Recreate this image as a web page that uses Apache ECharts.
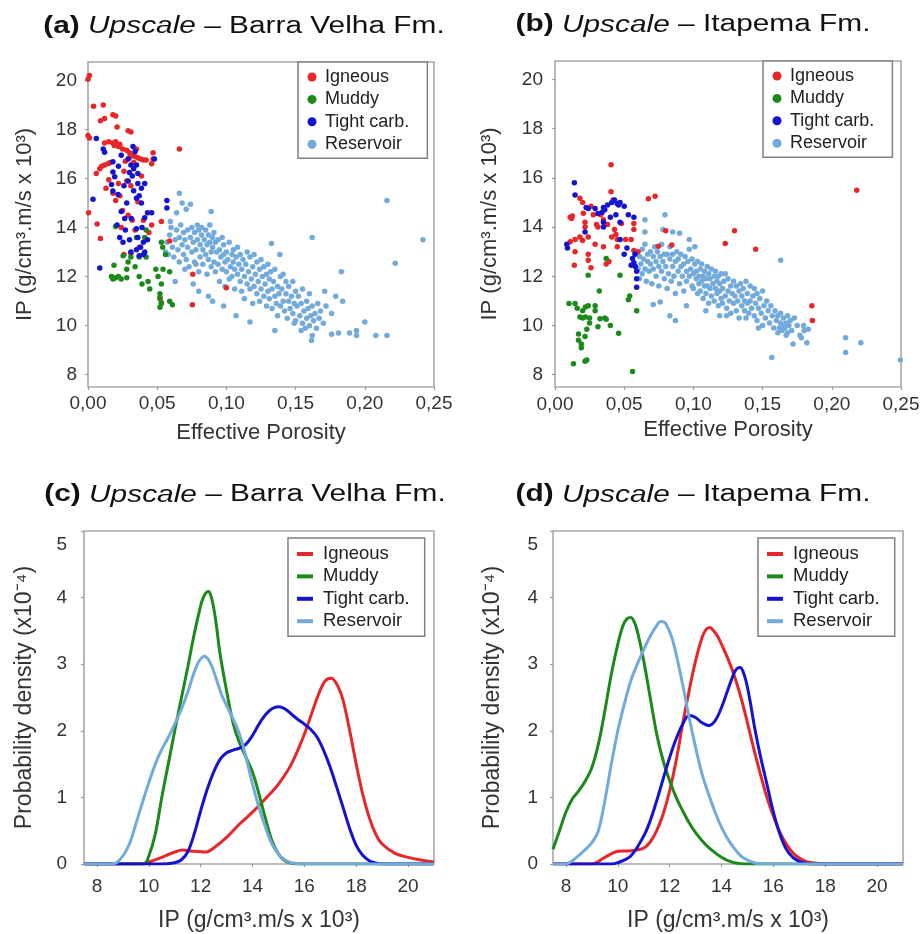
<!DOCTYPE html>
<html>
<head>
<meta charset="utf-8">
<script src="https://cdn.jsdelivr.net/npm/echarts@6/dist/echarts.min.js"></script>
<style>
html,body{margin:0;padding:0;background:#fff;}
#chart{width:923px;height:934px;}
</style>
</head>
<body>
<div id="chart"></div>
<script>
// ---------- labels & ticks ----------
const seriesNames = ['Igneous', 'Muddy', 'Tight carb.', 'Reservoir'];
const porosityTicks = [0, 0.05, 0.10, 0.15, 0.20, 0.25];
const ipTicks = [8, 10, 12, 14, 16, 18, 20];
const densityTicks = [0, 1, 2, 3, 4, 5];
const titleA = '(a)', titleB = '(b)', titleC = '(c)', titleD = '(d)';
const fmBarra = ' – Barra Velha Fm.', fmItapema = ' – Itapema Fm.';
const ipName = 'IP (g/cm³.m/s x 10³)';
const porName = 'Effective Porosity';
const densName = 'Probability density (x10⁻⁴)';

// ---------- (a) scatter, Barra Velha: [porosity, IP] ----------
const scatA_igneous = [[0.001,20.2],[0.0,20.05],[0.0,17.75],[0.001,17.65],[0.004,18.95],[0.011,19.0],[0.009,18.35],[0.012,18.45],[0.018,18.6],[0.020,18.55],[0.021,18.1],[0.029,17.95],[0.031,17.9],[0.012,17.45],[0.015,17.5],[0.018,17.45],[0.020,17.5],[0.022,17.3],[0.019,17.35],[0.023,17.4],[0.025,17.2],[0.028,17.15],[0.030,17.05],[0.032,16.95],[0.034,16.9],[0.036,16.85],[0.038,16.8],[0.040,16.75],[0.042,16.75],[0.030,16.85],[0.027,16.7],[0.033,16.65],[0.047,17.05],[0.047,16.8],[0.046,16.6],[0.066,17.2],[0.006,16.2],[0.0085,16.4],[0.010,16.5],[0.012,16.55],[0.0145,16.6],[0.016,16.65],[0.015,15.95],[0.013,15.6],[0.018,15.4],[0.022,15.8],[0.023,15.3],[0.028,15.9],[0.031,15.7],[0.0386,16.1],[0.0004,14.6],[0.0066,14.15],[0.009,13.55],[0.025,14.7],[0.029,14.5],[0.032,14.3],[0.036,15.05],[0.053,14.25],[0.059,13.45],[0.0757,12.1],[0.0754,10.85],[0.100,11.55],[0.052,11.15],[0.053,10.95],[0.020,15.1],[0.026,16.3],[0.035,17.2],[0.024,14.0],[0.040,14.3],[0.044,13.8],[0.026,12.9],[0.046,14.1],[0.034,13.9],[0.037,13.2],[0.031,12.95]];
const scatA_muddy = [[0.0199,14.04],[0.0188,12.46],[0.017,12.0],[0.018,11.9],[0.020,11.95],[0.022,12.0],[0.024,11.9],[0.028,11.95],[0.0254,12.85],[0.029,12.6],[0.031,12.8],[0.028,12.3],[0.034,12.4],[0.035,13.6],[0.041,13.6],[0.042,13.9],[0.037,12.8],[0.042,12.8],[0.037,12.0],[0.0434,11.8],[0.0446,11.5],[0.0506,12.0],[0.0542,12.3],[0.053,11.7],[0.052,11.3],[0.052,11.1],[0.053,10.9],[0.053,13.4],[0.054,13.2],[0.056,12.9],[0.059,12.2],[0.059,11.0],[0.061,10.85],[0.039,11.7],[0.049,12.3],[0.052,10.75]];
const scatA_tight = [[0.006,17.63],[0.011,17.2],[0.012,17.07],[0.018,16.68],[0.024,16.95],[0.0325,17.3],[0.034,17.1],[0.029,16.8],[0.031,16.55],[0.033,16.4],[0.030,16.25],[0.032,16.1],[0.035,16.55],[0.048,16.8],[0.018,16.27],[0.0193,16.07],[0.017,15.76],[0.018,15.49],[0.0217,15.35],[0.029,15.9],[0.036,15.8],[0.0386,15.6],[0.035,15.2],[0.037,15.3],[0.0386,15.0],[0.041,15.8],[0.0036,15.15],[0.024,14.65],[0.0265,14.37],[0.0313,14.37],[0.043,14.6],[0.046,14.6],[0.041,14.4],[0.057,15.1],[0.057,14.8],[0.035,13.95],[0.0229,13.6],[0.0253,13.4],[0.030,13.5],[0.031,13.0],[0.035,13.1],[0.038,13.2],[0.040,12.9],[0.037,12.85],[0.041,13.0],[0.0085,12.35],[0.036,13.6],[0.040,13.4],[0.028,15.0],[0.033,15.5],[0.026,15.7],[0.022,16.5],[0.036,16.2],[0.027,13.9],[0.043,13.5],[0.039,14.0],[0.021,14.1]];
const scatA_reservoir = [[0.066,15.4],[0.068,15.0],[0.071,14.75],[0.074,14.95],[0.089,14.65],[0.0595,14.25],[0.064,14.6],[0.216,15.1],[0.242,13.5],[0.222,12.55],[0.162,13.6],[0.183,12.2],[0.1326,13.35],[0.1386,12.9],[0.200,10.15],[0.208,9.6],[0.216,9.6],[0.194,9.8],[0.194,9.6],[0.189,9.7],[0.181,9.7],[0.176,9.65],[0.1615,9.4],[0.176,10.5],[0.184,11.0],[0.179,11.2],[0.171,11.4],[0.154,9.8],[0.149,10.1],[0.135,9.8],[0.117,10.15],[0.107,10.4],[0.098,10.8],[0.087,11.2],[0.080,11.4],[0.078,12.5],[0.070,12.3],[0.063,11.8],[0.076,11.7],[0.090,11.0],
[0.056,13.0],[0.057,13.4],[0.058,12.9],[0.059,13.7],[0.060,14.0],[0.061,13.2],[0.062,12.8],[0.063,13.5],[0.064,13.9],[0.065,13.1],[0.066,12.6],[0.066,13.6],[0.067,14.1],[0.068,13.3],[0.069,12.9],[0.069,13.8],
[0.070,13.5],[0.071,12.7],[0.072,13.9],[0.072,13.2],[0.073,12.4],[0.074,13.6],[0.075,14.0],[0.075,13.0],[0.076,13.4],[0.077,12.6],[0.077,13.8],[0.078,13.1],[0.079,14.1],[0.079,13.5],[0.080,12.2],[0.080,13.9],[0.081,13.3],[0.081,12.8],[0.082,13.7],[0.082,14.0],[0.083,13.1],[0.083,12.5],[0.084,13.5],[0.085,13.9],[0.085,12.9],[0.086,13.3],[0.086,12.1],[0.087,13.7],[0.087,12.7],[0.088,13.4],[0.088,14.1],[0.089,13.0],[0.089,12.4],[0.090,13.6],
[0.090,13.2],[0.091,12.6],[0.091,13.8],[0.092,13.4],[0.092,12.2],[0.093,13.0],[0.094,13.5],[0.094,12.5],[0.095,11.8],[0.095,13.1],[0.096,12.8],[0.097,13.6],[0.097,12.3],[0.098,12.9],[0.098,13.3],[0.099,11.6],[0.099,12.6],[0.100,13.0],[0.100,12.2],[0.101,12.7],[0.102,13.4],[0.102,11.9],[0.103,12.4],[0.104,12.9],[0.104,12.0],[0.105,13.1],[0.105,12.6],[0.106,11.5],[0.106,12.3],[0.107,12.8],[0.108,12.1],[0.108,13.2],[0.109,12.5],[0.110,11.8],[0.110,12.9],
[0.111,12.3],[0.111,11.4],[0.112,12.7],[0.113,12.0],[0.113,11.1],[0.114,12.5],[0.115,11.7],[0.115,13.0],[0.116,12.2],[0.117,11.5],[0.117,12.8],[0.118,11.9],[0.119,12.4],[0.119,10.9],[0.120,11.6],[0.120,12.9],[0.121,12.1],[0.122,11.3],[0.122,12.6],[0.123,11.8],[0.124,12.3],[0.124,11.0],[0.125,11.5],[0.125,12.7],[0.126,12.0],[0.127,11.2],[0.127,12.4],[0.128,11.7],[0.129,12.1],[0.129,10.8],[0.130,11.4],[0.130,12.5],
[0.131,11.9],[0.131,11.1],[0.132,12.2],[0.133,11.5],[0.133,10.7],[0.134,11.8],[0.135,11.2],[0.135,12.3],[0.136,10.9],[0.137,11.6],[0.137,10.4],[0.138,11.3],[0.139,12.0],[0.139,10.8],[0.140,11.5],[0.141,11.0],[0.141,12.1],[0.142,10.6],[0.143,11.3],[0.143,11.8],[0.144,10.3],[0.145,11.0],[0.145,11.6],[0.146,10.7],[0.147,11.2],[0.148,10.5],[0.148,11.8],[0.149,10.9],[0.150,11.4],[0.150,10.2],
[0.151,10.8],[0.152,11.2],[0.153,10.4],[0.154,10.9],[0.155,10.1],[0.155,11.5],[0.156,10.6],[0.157,9.9],[0.158,11.0],[0.158,10.3],[0.159,10.7],[0.160,10.0],[0.160,11.3],[0.161,10.4],[0.162,9.6],[0.162,10.8],[0.163,10.2],[0.164,10.5],[0.165,9.9],[0.166,10.9],[0.167,10.3],[0.168,10.6],[0.170,10.1],[0.172,10.8]];

// ---------- (b) scatter, Itapema ----------
const scatB_igneous = [[0.0405,16.53],[0.0405,15.44],[0.042,15.1],[0.018,15.17],[0.011,14.4],[0.012,14.35],[0.0125,14.45],[0.0205,14.56],[0.0217,14.2],[0.0217,14.0],[0.0277,14.5],[0.030,14.1],[0.035,14.3],[0.038,14.1],[0.048,14.15],[0.057,14.15],[0.057,13.9],[0.0675,15.15],[0.0723,15.25],[0.018,13.6],[0.0145,13.5],[0.020,13.45],[0.024,13.6],[0.0145,13.0],[0.014,12.45],[0.024,12.9],[0.024,12.65],[0.026,12.35],[0.029,13.3],[0.035,13.2],[0.037,12.5],[0.043,13.9],[0.044,13.7],[0.045,13.5],[0.045,13.2],[0.051,13.5],[0.055,13.5],[0.041,13.6],[0.057,13.05],[0.080,13.85],[0.0844,13.27],[0.0747,13.22],[0.1297,13.85],[0.123,13.33],[0.145,13.1],[0.218,15.5],[0.1856,10.8],[0.186,10.2],[0.020,15.0],[0.026,14.85],[0.033,14.5],[0.011,13.4],[0.031,14.0],[0.039,12.6],[0.060,13.0]];
const scatB_muddy = [[0.0101,10.89],[0.0145,10.89],[0.024,12.04],[0.037,12.72],[0.047,12.04],[0.053,11.05],[0.054,11.2],[0.059,10.6],[0.016,10.7],[0.020,10.6],[0.022,10.75],[0.024,10.8],[0.018,10.35],[0.020,10.3],[0.022,10.35],[0.025,10.3],[0.029,10.8],[0.029,10.6],[0.0325,10.27],[0.031,9.95],[0.040,10.0],[0.017,9.65],[0.019,9.25],[0.0217,9.55],[0.017,9.4],[0.019,9.1],[0.0133,8.45],[0.0217,8.55],[0.023,8.6],[0.046,9.68],[0.056,8.13],[0.036,10.3],[0.032,11.4],[0.025,10.1],[0.023,9.85],[0.037,10.25]];
const scatB_tight = [[0.014,15.8],[0.0145,15.3],[0.0225,14.8],[0.024,14.75],[0.029,14.75],[0.034,14.6],[0.035,14.8],[0.036,14.7],[0.038,14.9],[0.041,15.0],[0.043,15.1],[0.045,14.95],[0.046,14.9],[0.047,15.0],[0.050,14.85],[0.053,14.5],[0.057,14.4],[0.035,14.2],[0.035,14.0],[0.044,14.5],[0.047,14.2],[0.047,13.5],[0.052,13.15],[0.056,12.72],[0.057,12.55],[0.058,12.4],[0.059,12.2],[0.0578,12.9],[0.059,11.9],[0.059,11.55],[0.0085,13.3],[0.009,13.15],[0.0217,13.8],[0.055,12.45],[0.050,12.9],[0.040,14.4],[0.031,14.55]];
const scatB_reservoir = [[0.0795,14.5],[0.065,14.3],[0.065,13.8],[0.090,13.75],[0.097,13.5],[0.101,13.2],[0.163,12.65],[0.1566,8.7],[0.210,9.5],[0.221,9.3],[0.210,8.9],[0.2495,8.6],[0.172,9.25],[0.182,9.3],[0.178,9.5],[0.167,9.6],[0.161,9.7],[0.1796,10.0],[0.071,10.85],[0.076,10.95],[0.083,10.4],[0.087,10.2],[0.095,10.8],[0.109,10.6],[0.119,10.4],[0.124,10.4],[0.138,10.3],[0.147,9.9],[0.183,9.85],[0.078,13.9],[0.085,13.8],
[0.060,12.3],[0.061,12.8],[0.061,11.9],[0.062,12.5],[0.063,13.1],[0.063,12.1],[0.064,12.7],[0.065,12.3],[0.065,13.3],[0.066,11.8],[0.067,12.6],[0.067,12.9],[0.068,12.2],[0.069,13.0],[0.069,12.5],[0.070,11.7],[0.071,12.8],[0.071,12.3],[0.072,13.2],[0.073,12.0],[0.073,12.6],[0.074,13.0],[0.075,12.4],[0.075,11.6],[0.076,12.8],[0.077,12.2],[0.077,13.3],[0.078,12.6],[0.079,11.9],[0.079,12.9],
[0.080,12.4],[0.081,12.9],[0.081,11.5],[0.082,12.1],[0.083,12.7],[0.083,13.2],[0.084,11.8],[0.085,12.4],[0.085,12.9],[0.086,12.0],[0.087,12.6],[0.087,11.3],[0.088,13.0],[0.089,12.2],[0.089,12.7],[0.090,11.7],[0.091,12.4],[0.091,12.9],[0.092,12.0],[0.093,12.5],[0.093,11.4],[0.094,12.8],[0.095,12.2],[0.095,11.8],[0.096,12.6],[0.097,12.0],[0.097,13.1],[0.098,12.3],[0.099,11.6],[0.099,12.7],
[0.100,12.1],[0.100,11.5],[0.101,12.5],[0.102,11.9],[0.102,12.2],[0.103,11.3],[0.103,12.6],[0.104,11.7],[0.104,12.0],[0.105,11.4],[0.105,12.3],[0.106,11.8],[0.106,12.5],[0.107,11.1],[0.107,12.0],[0.108,11.6],[0.108,12.2],[0.109,11.3],[0.109,11.9],[0.110,12.4],[0.110,11.6],[0.111,10.9],[0.111,12.1],[0.112,11.5],[0.112,11.9],[0.113,12.3],[0.113,11.2],[0.114,11.7],[0.115,12.0],[0.115,11.0],[0.116,11.5],[0.116,12.2],[0.117,11.3],[0.117,11.8],[0.118,10.8],[0.118,12.0],[0.119,11.4],[0.119,11.7],[0.120,11.1],[0.120,12.1],
[0.121,11.5],[0.121,10.9],[0.122,11.8],[0.123,11.2],[0.123,12.1],[0.124,10.7],[0.125,11.4],[0.125,11.9],[0.126,11.0],[0.127,11.6],[0.127,10.5],[0.128,11.3],[0.129,11.8],[0.129,10.9],[0.130,11.2],[0.131,11.6],[0.131,10.6],[0.132,11.0],[0.133,11.4],[0.133,10.3],[0.134,11.7],[0.135,10.8],[0.135,11.2],[0.136,11.5],[0.137,10.6],[0.137,11.0],[0.138,11.8],[0.139,10.9],[0.139,11.3],[0.140,10.5],
[0.141,11.0],[0.141,11.6],[0.142,10.7],[0.143,11.2],[0.144,10.4],[0.144,11.5],[0.145,10.9],[0.146,11.3],[0.146,10.2],[0.147,10.7],[0.148,11.1],[0.149,10.5],[0.150,11.4],[0.150,10.0],[0.151,10.8],[0.152,10.3],[0.153,11.0],[0.154,10.6],[0.155,10.1],[0.156,10.8],[0.157,10.4],[0.158,9.9],[0.159,10.6],[0.160,10.2],
[0.161,10.4],[0.162,9.9],[0.163,10.1],[0.163,10.5],[0.164,9.8],[0.165,10.0],[0.165,10.3],[0.166,9.9],[0.167,10.1],[0.168,10.4],[0.168,9.7],[0.169,10.0],[0.170,10.2],[0.171,9.8],[0.173,10.3],[0.175,10.0],[0.177,9.6],[0.180,9.8]];

// ---------- (c) densities, Barra Velha: [IP, density] ----------
const kdeC_igneous = [[7.5,0],[9.7,0],[10.0,0.03],[10.5,0.1],[11.0,0.18],[11.3,0.21],[11.75,0.19],[12.2,0.18],[12.5,0.24],[13.0,0.4],[13.5,0.6],[14.0,0.78],[14.5,0.98],[15.0,1.2],[15.5,1.5],[16.0,1.95],[16.5,2.5],[16.75,2.72],[16.9,2.78],[17.05,2.79],[17.2,2.73],[17.35,2.62],[17.5,2.45],[17.75,2.0],[18.0,1.5],[18.25,1.05],[18.5,0.7],[18.75,0.45],[19.0,0.3],[19.5,0.16],[20.0,0.1],[20.5,0.06],[21.0,0.03]];
const kdeC_muddy = [[7.5,0],[9.8,0],[10.0,0.12],[10.25,0.45],[10.5,1.0],[10.75,1.5],[11.0,2.0],[11.25,2.48],[11.5,2.95],[11.75,3.45],[12.0,3.88],[12.1,4.0],[12.2,4.07],[12.3,4.09],[12.4,4.02],[12.5,3.85],[12.6,3.6],[12.75,3.15],[13.0,2.6],[13.25,2.12],[13.5,1.82],[13.75,1.6],[14.0,1.38],[14.25,1.05],[14.5,0.68],[14.75,0.35],[15.0,0.15],[15.25,0.05],[15.5,0.01],[15.75,0],[21,0]];
const kdeC_tight = [[7.5,0],[10.5,0],[11.0,0.02],[11.25,0.06],[11.5,0.18],[11.75,0.45],[12.0,0.8],[12.25,1.12],[12.5,1.38],[12.75,1.57],[13.0,1.67],[13.25,1.71],[13.5,1.74],[13.75,1.8],[14.0,1.93],[14.25,2.1],[14.5,2.24],[14.75,2.33],[15.0,2.36],[15.25,2.33],[15.5,2.25],[15.75,2.17],[16.0,2.1],[16.25,2.02],[16.5,1.9],[16.75,1.7],[17.0,1.45],[17.25,1.15],[17.5,0.84],[17.75,0.53],[18.0,0.28],[18.25,0.13],[18.5,0.05],[18.75,0.015],[19.0,0],[21,0]];
const kdeC_reservoir = [[7.5,0],[8.5,0],[8.75,0.02],[9.0,0.12],[9.25,0.3],[9.5,0.6],[9.75,0.92],[10.0,1.22],[10.25,1.5],[10.5,1.72],[10.75,1.9],[11.0,2.1],[11.25,2.32],[11.5,2.58],[11.75,2.88],[11.9,3.02],[12.05,3.1],[12.15,3.12],[12.3,3.07],[12.45,2.95],[12.6,2.78],[12.8,2.55],[13.0,2.38],[13.25,2.18],[13.5,1.95],[13.75,1.6],[14.0,1.2],[14.25,0.85],[14.5,0.55],[14.75,0.3],[15.0,0.15],[15.25,0.06],[15.5,0.02],[16.0,0],[21,0]];

// ---------- (d) densities, Itapema ----------
const kdeD_igneous = [[7.5,0],[9.0,0],[9.5,0.1],[10.0,0.19],[10.5,0.2],[11.0,0.24],[11.25,0.33],[11.5,0.5],[11.75,0.75],[12.0,1.1],[12.25,1.55],[12.5,2.1],[12.75,2.6],[13.0,3.05],[13.25,3.4],[13.4,3.52],[13.55,3.55],[13.7,3.5],[13.85,3.42],[14.0,3.3],[14.25,3.08],[14.5,2.82],[14.75,2.5],[15.0,2.12],[15.25,1.72],[15.5,1.35],[15.75,1.0],[16.0,0.72],[16.25,0.48],[16.5,0.3],[16.75,0.17],[17.0,0.09],[17.25,0.04],[17.5,0.02],[18.0,0],[21,0]];
const kdeD_muddy = [[7.5,0.22],[7.75,0.5],[8.0,0.78],[8.25,0.98],[8.5,1.1],[8.75,1.25],[9.0,1.45],[9.25,1.8],[9.5,2.3],[9.75,2.85],[10.0,3.3],[10.2,3.58],[10.35,3.68],[10.5,3.7],[10.65,3.62],[10.8,3.42],[11.0,3.05],[11.25,2.5],[11.5,1.95],[11.75,1.55],[12.0,1.25],[12.25,1.0],[12.5,0.8],[12.75,0.62],[13.0,0.47],[13.25,0.35],[13.5,0.25],[13.75,0.17],[14.0,0.1],[14.25,0.05],[14.5,0.02],[14.75,0.005],[15.0,0],[21,0]];
const kdeD_tight = [[7.5,0],[9.75,0],[10.0,0.02],[10.5,0.12],[11.0,0.42],[11.25,0.65],[11.5,0.95],[11.75,1.28],[12.0,1.6],[12.25,1.88],[12.5,2.1],[12.75,2.23],[13.0,2.2],[13.25,2.12],[13.5,2.08],[13.75,2.15],[14.0,2.35],[14.25,2.62],[14.5,2.88],[14.62,2.94],[14.72,2.95],[14.82,2.9],[14.95,2.74],[15.1,2.45],[15.3,2.0],[15.5,1.62],[15.75,1.2],[16.0,0.78],[16.25,0.45],[16.5,0.22],[16.75,0.1],[17.0,0.04],[17.25,0.01],[17.5,0],[21,0]];
const kdeD_reservoir = [[7.5,0],[8.0,0],[8.25,0.05],[8.5,0.13],[8.75,0.22],[9.0,0.32],[9.25,0.5],[9.5,0.95],[9.75,1.5],[10.0,2.0],[10.25,2.4],[10.5,2.75],[10.75,3.0],[11.0,3.22],[11.25,3.42],[11.5,3.58],[11.65,3.64],[11.8,3.63],[11.95,3.53],[12.1,3.38],[12.25,3.15],[12.5,2.7],[12.75,2.2],[13.0,1.75],[13.25,1.35],[13.5,1.05],[13.75,0.78],[14.0,0.55],[14.25,0.37],[14.5,0.23],[14.75,0.12],[15.0,0.06],[15.25,0.02],[15.5,0],[21,0]];

// ---------- styling ----------
const FONT = "'Liberation Sans', Arial, Helvetica, sans-serif";
const COLORS = {'Igneous':'#e8262a','Muddy':'#1b8a1b','Tight carb.':'#1414d0','Reservoir':'#72aadb'};
const TICK_COLOR = '#333';
const FRAME = '#a8a8a8';

const chart = echarts.init(document.getElementById('chart'), null, {renderer:'canvas'});

function gridCfg(l, t, w, h) {
  return {left:l, top:t, width:w, height:h, show:true, borderColor:FRAME, borderWidth:1.6, backgroundColor:'rgba(0,0,0,0)', containLabel:false};
}
const axisTickCfg = {show:true, length:3, inside:false, lineStyle:{color:'#999', width:1.2}};
const labelBase = {fontSize:19, color:TICK_COLOR, fontFamily:FONT};
const nameStyle = (fs) => ({fontSize:fs, color:'#333', fontFamily:FONT});

function porAxis(gi, margin, gap) {
  return {gridIndex:gi, type:'value', min:porosityTicks[0], max:porosityTicks[porosityTicks.length-1], interval:0.05,
    axisLine:{show:false}, splitLine:{show:false}, axisTick:axisTickCfg,
    axisLabel:Object.assign({margin:margin, formatter:v => v.toFixed(2).replace('.', ',')}, labelBase),
    name:porName, nameLocation:'middle', nameGap:gap, nameTextStyle:nameStyle(22)};
}
function ipXAxis(gi, margin, gap) {
  return {gridIndex:gi, type:'value', min:7.5, max:21,
    axisLine:{show:false}, splitLine:{show:false},
    axisTick:Object.assign({customValues:ipTicks}, axisTickCfg),
    axisLabel:Object.assign({margin:margin, customValues:ipTicks}, labelBase),
    name:ipName, nameLocation:'middle', nameGap:gap, nameTextStyle:nameStyle(23)};
}
function ipYAxis(gi, margin, gap) {
  return {gridIndex:gi, type:'value', min:7.5, max:20.75,
    axisLine:{show:false}, splitLine:{show:false},
    axisTick:Object.assign({customValues:ipTicks}, axisTickCfg),
    axisLabel:Object.assign({margin:margin, customValues:ipTicks}, labelBase),
    name:ipName, nameLocation:'middle', nameGap:gap, nameTextStyle:nameStyle(22)};
}
function densAxis(gi, margin, gap) {
  return {gridIndex:gi, type:'value', min:densityTicks[0], max:densityTicks[densityTicks.length-1], interval:1,
    axisLine:{show:false}, splitLine:{show:false}, axisTick:axisTickCfg,
    axisLabel:Object.assign({margin:margin,
      formatter:v => (v === 5 ? '{lo|5}' : String(v)),
      rich:{lo:{padding:[28,0,0,0], fontSize:19, color:TICK_COLOR, fontFamily:FONT}}}, labelBase),
    name:densName, nameLocation:'middle', nameGap:gap, nameTextStyle:nameStyle(23)};
}

function scatter(name, data, gi) {
  return {type:'scatter', name:name, xAxisIndex:gi, yAxisIndex:gi, data:data, symbol:'circle', symbolSize:5.5,
    itemStyle:{color:COLORS[name], opacity:1}, silent:true, animation:false};
}
function curve(name, data, gi) {
  return {type:'line', name:name, xAxisIndex:gi, yAxisIndex:gi, data:data, showSymbol:false, smooth:0.35,
    lineStyle:{color:COLORS[name], width:3}, itemStyle:{color:COLORS[name]}, silent:true, animation:false, clip:true};
}

function scatterLegend(left, top) {
  return {left:left, top:top, orient:'vertical', data:seriesNames, icon:'circle', itemWidth:9, itemHeight:9, itemGap:2.4,
    padding:[5, 18, 4, 9.5], borderColor:'#808080', borderWidth:1.5, backgroundColor:'#fff', selectedMode:false,
    textStyle:{fontSize:18, lineHeight:20, color:'#222', fontFamily:FONT, padding:[0,0,0,3.5]}};
}
function lineLegend(left, top) {
  return {left:left, top:top, orient:'vertical', data:seriesNames, icon:'rect', itemWidth:16, itemHeight:4, itemGap:2.4,
    padding:[6, 15, 5, 9], borderColor:'#808080', borderWidth:1.5, backgroundColor:'#fff', selectedMode:false,
    textStyle:{fontSize:18.5, lineHeight:20, color:'#222', fontFamily:FONT, padding:[0,0,0,5]}};
}

function titleGraphic(x, y, tag, fm) {
  const base = {fontSize:23.5, fontFamily:FONT, fill:'#111'};
  return {type:'text', x:x, y:y, scaleX:1.27, scaleY:1, silent:true, z:100,
    style:{text:'{b|' + tag + '}{n| }{i|Upscale}{n|' + fm + '}', align:'center', verticalAlign:'middle',
      fontSize:23.5, fontFamily:FONT, fill:'#111',
      rich:{b:Object.assign({fontWeight:'bold'}, base), i:Object.assign({fontStyle:'italic'}, base), n:Object.assign({}, base)}}};
}

const option = {
  backgroundColor:'#fff',
  animation:false,
  grid:[gridCfg(88, 62, 346, 325), gridCfg(555, 61, 346, 326), gridCfg(84, 531, 350, 333), gridCfg(553, 531, 350, 333)],
  xAxis:[porAxis(0, 7, 35), porAxis(1, 8, 32), ipXAxis(2, 13, 45), ipXAxis(3, 13, 45)],
  yAxis:[ipYAxis(0, 11, 52), ipYAxis(1, 12, 54), densAxis(2, 17, 48), densAxis(3, 15, 49)],
  legend:[scatterLegend(298, 62), scatterLegend(763, 61), lineLegend(288, 538), lineLegend(758, 538)],
  graphic:[titleGraphic(244, 26.5, titleA, fmBarra), titleGraphic(693, 25, titleB, fmItapema),
           titleGraphic(245, 495, titleC, fmBarra), titleGraphic(693, 495, titleD, fmItapema)],
  series:[
    scatter('Reservoir', scatA_reservoir, 0), scatter('Igneous', scatA_igneous, 0), scatter('Muddy', scatA_muddy, 0), scatter('Tight carb.', scatA_tight, 0),
    scatter('Reservoir', scatB_reservoir, 1), scatter('Igneous', scatB_igneous, 1), scatter('Muddy', scatB_muddy, 1), scatter('Tight carb.', scatB_tight, 1),
    curve('Igneous', kdeC_igneous, 2), curve('Muddy', kdeC_muddy, 2), curve('Tight carb.', kdeC_tight, 2), curve('Reservoir', kdeC_reservoir, 2),
    curve('Igneous', kdeD_igneous, 3), curve('Muddy', kdeD_muddy, 3), curve('Tight carb.', kdeD_tight, 3), curve('Reservoir', kdeD_reservoir, 3)
  ]
};
chart.setOption(option);
</script>
</body>
</html>
